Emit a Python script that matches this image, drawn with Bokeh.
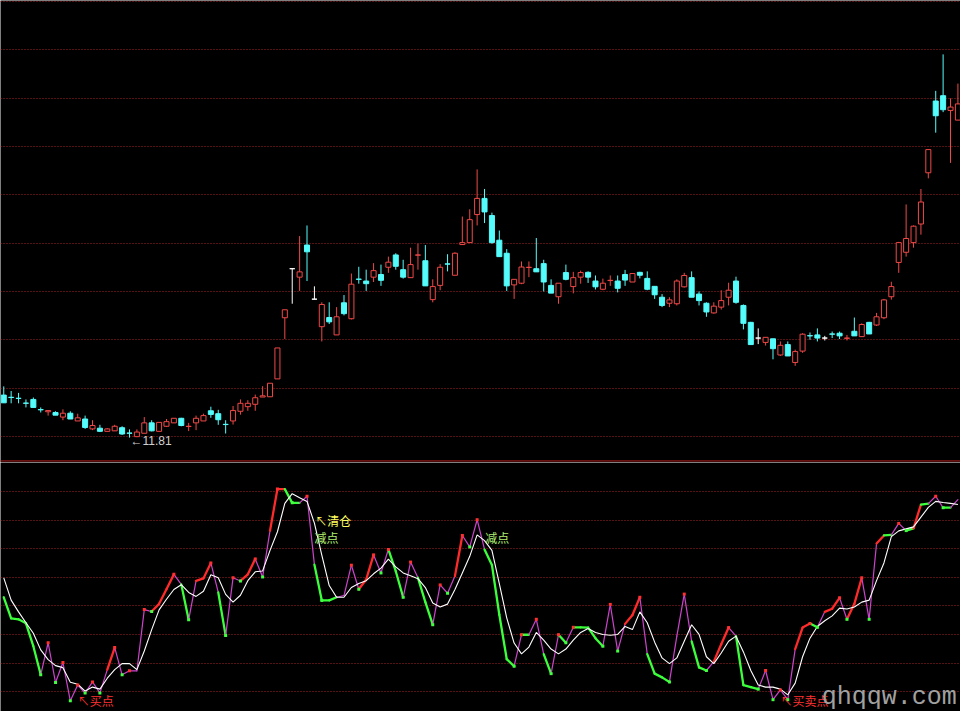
from bokeh.plotting import figure
from bokeh.layouts import column
from bokeh.models import ColumnDataSource, Range1d, FixedTicker, Span, Label
from bokeh.embed import file_html
from bokeh.resources import INLINE

# ---------------- data ----------------
opens = [13.57, 13.48, 13.44, 13.24, 13.39, 12.97, 12.88, 12.85, 12.66, 12.82,
         12.50, 12.58, 12.17, 12.20, 12.07, 12.09, 12.22, 12.00, 11.85, 11.99,
         12.42, 12.07, 12.28, 12.42, 12.61, 12.27, 12.42, 12.50, 12.92, 12.80,
         12.36, 12.50, 12.90, 13.09, 13.19, 13.49, 13.50, 14.24, 16.77, 18.80,
         18.45, 19.78, 17.54, 16.40, 16.78, 16.06, 17.39, 16.73, 18.37, 18.29,
         18.45, 18.56, 18.86, 19.37, 18.76, 18.43, 19.36, 19.13, 17.52, 18.11,
         19.00, 18.53, 19.80, 19.88, 21.04, 21.71, 21.00, 19.98, 19.44, 18.13,
         18.20, 18.85, 18.80, 19.01, 18.11, 17.64, 18.64, 18.06, 18.45, 18.65,
         18.29, 17.95, 18.31, 18.29, 18.56, 18.25, 18.65, 18.40, 18.07, 17.62,
         17.37, 17.35, 18.05, 18.43, 17.75, 17.37, 16.97, 17.21, 17.62, 18.29,
         17.28, 16.58, 15.93, 15.75, 15.90, 15.23, 15.66, 14.92, 15.39, 16.03,
         16.06, 15.93, 16.10, 16.13, 15.92, 16.21, 15.99, 16.58, 16.47, 16.77,
         17.64, 19.06, 19.48, 19.88, 20.65, 22.77, 25.74, 25.96, 25.35, 24.95]
highs = [13.93, 13.74, 13.66, 13.39, 13.47, 13.06, 12.93, 12.90, 12.98, 12.90,
         12.80, 12.72, 12.53, 12.34, 12.20, 12.34, 12.28, 12.15, 12.15, 12.66,
         12.53, 12.44, 12.58, 12.62, 12.63, 12.42, 12.72, 12.80, 13.09, 12.96,
         12.53, 13.12, 13.39, 13.36, 13.59, 13.94, 14.06, 15.52, 17.10, 18.80,
         20.15, 20.59, 18.07, 17.41, 17.41, 17.21, 17.71, 18.60, 18.88, 18.76,
         19.03, 18.97, 19.30, 19.44, 19.17, 19.67, 19.84, 19.78, 18.36, 18.99,
         19.40, 19.48, 20.96, 21.26, 22.91, 22.10, 21.12, 20.38, 19.61, 18.36,
         19.10, 19.10, 20.07, 19.17, 18.36, 18.20, 18.97, 18.67, 18.72, 18.69,
         18.52, 18.39, 18.52, 18.52, 18.75, 18.60, 18.67, 18.69, 18.07, 17.75,
         17.62, 18.36, 18.63, 18.69, 17.86, 17.41, 17.41, 17.91, 18.22, 18.47,
         17.32, 16.60, 16.33, 15.96, 15.90, 15.79, 15.79, 15.45, 16.13, 16.16,
         16.33, 16.02, 16.20, 16.20, 16.06, 16.78, 16.54, 16.60, 16.97, 17.55,
         18.26, 19.91, 21.46, 20.59, 22.10, 23.73, 26.16, 27.67, 25.85, 26.46]
lows = [13.25, 13.23, 13.23, 13.06, 13.06, 12.85, 12.72, 12.74, 12.53, 12.58,
        12.50, 12.17, 12.12, 12.04, 12.07, 12.09, 11.92, 11.81, 11.83, 11.99,
        12.07, 12.07, 12.25, 12.42, 12.28, 12.08, 12.12, 12.50, 12.63, 12.34,
        11.98, 12.35, 12.76, 12.92, 12.92, 13.49, 13.50, 14.24, 15.89, 17.35,
        17.88, 18.29, 17.54, 15.79, 16.51, 16.06, 16.87, 16.70, 18.18, 17.88,
        18.25, 18.09, 18.63, 18.76, 18.39, 18.43, 18.76, 18.09, 17.41, 17.91,
        18.69, 18.53, 19.80, 19.88, 20.59, 20.69, 19.83, 19.30, 17.88, 17.55,
        18.16, 18.45, 18.67, 17.86, 17.79, 17.35, 18.32, 17.78, 18.18, 18.21,
        17.94, 17.91, 18.09, 17.82, 18.09, 18.25, 18.40, 17.91, 17.55, 17.21,
        17.21, 17.28, 18.02, 17.62, 17.28, 16.81, 16.94, 17.11, 17.28, 17.35,
        16.29, 15.66, 15.68, 15.62, 15.05, 15.19, 15.19, 14.78, 15.32, 15.86,
        15.79, 15.83, 15.93, 15.89, 15.83, 16.02, 15.99, 16.10, 16.43, 16.71,
        17.52, 18.63, 19.30, 19.67, 20.21, 22.54, 24.43, 25.28, 23.18, 24.95]
closes = [13.25, 13.47, 13.43, 13.23, 13.06, 12.96, 12.93, 12.74, 12.82, 12.58,
          12.63, 12.23, 12.31, 12.07, 12.17, 12.28, 11.96, 11.99, 12.04, 12.42,
          12.09, 12.44, 12.47, 12.61, 12.31, 12.28, 12.61, 12.72, 12.77, 12.55,
          12.35, 12.93, 13.23, 13.23, 13.46, 13.54, 14.06, 15.52, 17.10, 18.80,
          18.67, 19.50, 17.54, 17.32, 16.60, 16.81, 16.94, 18.16, 18.36, 18.18,
          18.72, 18.32, 19.07, 18.90, 18.45, 18.97, 19.37, 18.09, 18.06, 18.86,
          18.99, 19.44, 19.88, 20.83, 21.71, 21.15, 19.88, 19.30, 18.09, 18.36,
          18.87, 18.86, 18.67, 18.25, 17.79, 18.20, 18.36, 18.43, 18.64, 18.45,
          18.05, 18.20, 18.32, 17.99, 18.33, 18.60, 18.53, 17.95, 17.72, 17.28,
          17.51, 18.29, 18.52, 17.62, 17.48, 17.01, 17.25, 17.48, 17.91, 17.41,
          16.54, 15.66, 15.93, 15.96, 15.49, 15.63, 15.19, 15.37, 16.09, 16.02,
          15.93, 15.93, 16.09, 16.02, 15.93, 16.02, 16.49, 16.10, 16.81, 17.51,
          18.06, 19.88, 20.05, 20.56, 21.56, 23.73, 25.13, 25.38, 25.49, 25.62]

# indicator: fast (coloured) line and slow (white) line
k_line = [43.0, 35.6, 35.3, 33.9, 25.9, 15.9, 27.1, 13.2, 20.2, 6.8,
          12.3, 9.5, 13.4, 9.5, 17.7, 25.4, 15.9, 17.3, 17.3, 38.7,
          38.0, 40.7, 45.8, 51.0, 47.5, 35.1, 48.7, 49.6, 55.0, 44.7,
          29.6, 49.8, 48.7, 51.0, 56.4, 50.1, 66.3, 80.8, 80.8, 76.0,
          76.0, 78.3, 54.4, 41.9, 41.9, 43.0, 43.6, 54.2, 45.8, 49.2,
          57.8, 51.5, 59.7, 52.1, 43.0, 55.3, 49.8, 41.3, 33.4, 47.3,
          44.4, 50.4, 64.6, 60.6, 70.1, 59.7, 54.3, 36.9, 21.4, 18.9,
          29.9, 29.9, 35.3, 23.1, 16.3, 29.9, 27.1, 32.5, 32.5, 32.4,
          28.7, 25.9, 40.5, 24.2, 33.7, 36.8, 43.0, 23.1, 16.3, 15.0,
          13.4, 29.4, 44.1, 27.6, 18.5, 17.4, 20.5, 26.6, 32.4, 29.4,
          12.3, 11.6, 10.9, 17.4, 7.2, 10.6, 7.2, 24.9, 32.4, 33.8,
          32.5, 37.9, 39.0, 42.8, 35.3, 40.7, 49.8, 35.3, 61.8, 64.6,
          64.8, 68.8, 66.3, 67.1, 75.4, 75.7, 78.3, 74.3, 74.3, 77.1]
d_line = [49.8, 42.0, 37.9, 34.1, 30.4, 24.6, 21.2, 19.1, 18.4, 13.3,
          12.6, 10.2, 11.6, 10.9, 14.7, 17.7, 19.8, 19.8, 17.7, 24.2,
          31.7, 38.6, 42.3, 45.7, 47.4, 44.7, 43.3, 45.1, 50.9, 49.8,
          44.0, 41.3, 43.7, 48.8, 51.9, 52.2, 59.4, 65.9, 75.8, 79.2,
          77.8, 76.5, 68.9, 57.7, 47.1, 43.0, 43.0, 46.4, 47.8, 48.8,
          51.2, 53.2, 56.3, 53.6, 51.5, 50.5, 49.5, 46.4, 41.0, 39.6,
          40.6, 45.7, 51.5, 57.3, 64.8, 62.8, 59.4, 47.8, 35.8, 27.0,
          23.2, 25.6, 30.7, 28.0, 24.9, 23.2, 24.9, 28.0, 30.7, 32.1,
          30.7, 30.0, 29.7, 30.0, 32.8, 31.7, 37.9, 34.1, 27.3, 21.8,
          19.8, 21.8, 27.6, 33.4, 30.0, 22.2, 19.8, 23.5, 27.6, 29.4,
          23.9, 17.4, 12.3, 11.6, 11.6, 10.9, 8.9, 13.0, 22.2, 28.7,
          32.8, 34.8, 36.5, 39.2, 38.9, 39.6, 41.3, 42.0, 48.8, 55.0,
          64.2, 66.2, 66.9, 67.6, 71.0, 74.4, 76.5, 76.1, 75.8, 75.4]
# state of each step of the fast line: R = strong rise, G = fall, M = neutral
k_state = ("GGGGGMMMMM" "MMMMRMMMMM" "RRRMGMRRMG" "MMRRMMRRGG" "MMGGGMMMRR"
           "MMGGMMGGMM" "MRMMMGGGGM" "GMMGMGMGGG" "GMMMRRMGGG" "MMMGGMRRMG"
           "GGMMMMMRRG" "MRRMRRMMRG" "MMGRGMMGM")

price_grid = [11.86, 13.86, 15.86, 17.86, 19.86, 21.86, 23.86, 25.86, 27.86, 29.86]
ind_grid = [10, 20, 30, 40, 50, 60, 70, 80]
low_label = "11.81"

# ---------------- styling ----------------
UP, DN, EQ = "#f04848", "#54fcfc", "#ffffff"
GRID = "#a82424"
SEG_COL = {"R": "#ff2a2a", "G": "#3cff3c", "M": "#cc44cc"}
SEG_W = {"R": 2.3, "G": 2.3, "M": 1.2}

N = len(opens)
idx = list(range(N))
col, fill = [], []
for o, c in zip(opens, closes):
    if c > o:
        col.append(UP); fill.append("#000000")
    elif c < o:
        col.append(DN); fill.append(DN)
    else:
        col.append(EQ); fill.append(EQ)

csrc = ColumnDataSource(dict(
    x=idx, h=highs, l=lows,
    top=[max(o, c) for o, c in zip(opens, closes)],
    bot=[min(o, c) for o, c in zip(opens, closes)],
    col=col, fill=fill))

xr = Range1d(-0.44, 129.35)

def base(height, yr):
    f = figure(width=960, height=height, x_range=xr, y_range=yr,
               output_backend="svg", toolbar_location=None,
               background_fill_color="black", border_fill_color="black",
               outline_line_color=None, min_border=0)
    f.axis.visible = False
    f.xgrid.visible = False
    return f

# ---------------- upper panel: candles ----------------
p1 = base(462, Range1d(10.78, 29.90))
p1.ygrid.ticker = FixedTicker(ticks=price_grid)
p1.ygrid.grid_line_color = GRID
p1.ygrid.grid_line_dash = "1 2"
p1.ygrid.grid_line_width = 1

p1.segment("x", "l", "x", "h", source=csrc, line_color="col", line_width=1)
p1.vbar(x="x", width=0.68, top="top", bottom="bot", source=csrc,
        fill_color="fill", line_color="col", line_width=1)

lo_i = min(range(N), key=lambda i: lows[i])
p1.add_layout(Label(x=lo_i, y=lows[lo_i], x_offset=1, y_offset=-3,
                    text="\u2190" + low_label, text_font="Liberation Sans",
                    text_font_size="12px", text_color="#d0d0d0",
                    text_baseline="middle", text_align="left"))
p1.add_layout(Span(location=10.845, dimension="width",
                   line_color="#b41e1e", line_width=1))

# ---------------- lower panel: indicator ----------------
p2 = base(249, Range1d(3.07, 90.1))
p2.ygrid.ticker = FixedTicker(ticks=ind_grid)
p2.ygrid.grid_line_color = GRID
p2.ygrid.grid_line_dash = "1 2"
p2.ygrid.grid_line_width = 1

ssrc = ColumnDataSource(dict(
    x0=idx[:-1], x1=idx[1:], y0=k_line[:-1], y1=k_line[1:],
    c=[SEG_COL[s] for s in k_state], w=[SEG_W[s] for s in k_state]))
p2.segment("x0", "y0", "x1", "y1", source=ssrc, line_color="c",
           line_width="w", line_cap="round")
p2.line(idx, d_line, line_color="white", line_width=1.1)

pk_x, pk_y, tr_x, tr_y = [], [], [], []
for i in range(1, N - 1):
    if k_line[i] > k_line[i - 1] and k_line[i] >= k_line[i + 1]:
        pk_x.append(i); pk_y.append(k_line[i])
    elif k_line[i] < k_line[i - 1] and k_line[i] <= k_line[i + 1]:
        tr_x.append(i); tr_y.append(k_line[i])
p2.scatter(pk_x, pk_y, marker="square", size=3, fill_color="#ff3030", line_color=None)
p2.scatter(tr_x, tr_y, marker="square", size=3, fill_color="#40ff40", line_color=None)

CJK = "Noto Sans CJK SC"
def lab(x, y, t, c, size="12px", font=CJK):
    p2.add_layout(Label(x=x, y=y, text=t, text_color=c, text_font=font,
                        text_font_size=size, text_baseline="middle",
                        text_align="left"))

lab(10.0, 6.8, "\u2196买点", "#ff3030")
lab(42.1, 70.0, "\u2196清仓", "#ffff60")
lab(42.0, 63.8, "减点", "#b0f070")
lab(65.1, 63.8, "减点", "#b0f070")
lab(105.0, 6.8, "\u2196买卖点", "#ff3030")

p2.add_layout(Label(x=110.6, y=7.85, text="qhqqw.com", text_color="#a0a0a0",
                    text_font="Liberation Mono", text_font_size="25px",
                    text_baseline="alphabetic", text_align="left"))

layout = column(p1, p2)
html = file_html(layout, INLINE, title="chart")
html = html.replace("<body>", '<body style="background:#000000;">', 1)
open("out.html", "w").write(html)
